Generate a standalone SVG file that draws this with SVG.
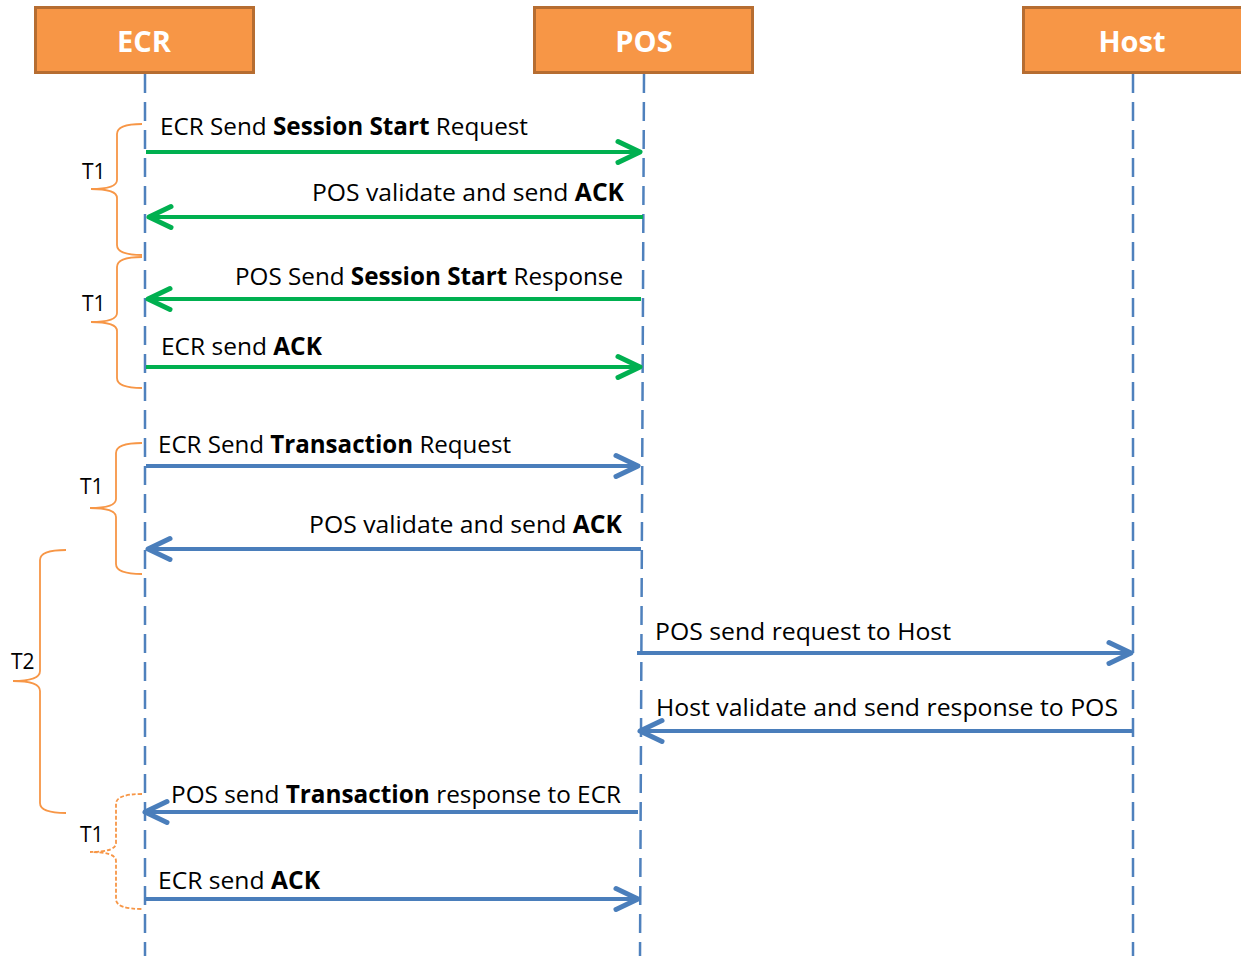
<svg xmlns="http://www.w3.org/2000/svg" width="1241" height="959" viewBox="0 0 1241 959">
  <style>
    .box { fill: #F79646; stroke: #B66D31; stroke-width: 3; }
    .head { font-family: "Open Sans", "Liberation Sans", sans-serif; font-weight: bold; font-size: 29px; fill: #FFFFFF; text-anchor: middle; }
    .life { stroke: #4F81BD; stroke-width: 2.5; stroke-dasharray: 19 9; fill: none; }
    .lbl { font-family: "Open Sans", "Liberation Sans", sans-serif; font-size: 24.5px; fill: #000000; }
    .lbl tspan.b { font-weight: bold; }
    .tl { font-family: "Open Sans", "Liberation Sans", sans-serif; font-size: 21px; fill: #000000; }
    .g { stroke: #00B050; stroke-width: 4; fill: none; }
    .bl { stroke: #4A7EBB; stroke-width: 4; fill: none; }
    .brace { stroke: #F79646; stroke-width: 1.8; fill: none; }
    .brace.dash { stroke-dasharray: 4 2; }
  </style>
  <defs>
    <marker id="arrG" markerUnits="userSpaceOnUse" markerWidth="40" markerHeight="40" refX="24" refY="12" orient="auto" overflow="visible">
      <path d="M2,1.5 L24,12 L2,22.5" fill="none" stroke="#00B050" stroke-width="5" stroke-linecap="round" stroke-linejoin="round"/>
    </marker>
    <marker id="arrB" markerUnits="userSpaceOnUse" markerWidth="40" markerHeight="40" refX="24" refY="12" orient="auto" overflow="visible">
      <path d="M2,1.5 L24,12 L2,22.5" fill="none" stroke="#4A7EBB" stroke-width="5" stroke-linecap="round" stroke-linejoin="round"/>
    </marker>
  </defs>

  <rect width="1241" height="959" fill="#FFFFFF"/>

  <!-- participants -->
  <g id="ecr">
    <rect class="box" x="35.5" y="7.5" width="218" height="65"/>
    <text class="head" x="144" y="52">ECR</text>
  </g>
  <g id="pos">
    <rect class="box" x="534.5" y="7.5" width="218" height="65"/>
    <text class="head" x="644" y="52">POS</text>
  </g>
  <g id="host">
    <rect class="box" x="1023.5" y="7.5" width="230" height="65"/>
    <text class="head" x="1132" y="52">Host</text>
  </g>

  <!-- lifelines -->
  <g id="lifelines">
    <line class="life" x1="145" y1="74" x2="145" y2="956"/>
    <line class="life" x1="644" y1="74" x2="640" y2="956"/>
    <line class="life" x1="1133" y1="74" x2="1133" y2="956"/>
  </g>

  <!-- messages -->
  <g id="connectors">
    <line class="g" x1="146" y1="152" x2="640" y2="152" marker-end="url(#arrG)"/>
    <line class="g" x1="643" y1="217" x2="149" y2="217" marker-end="url(#arrG)"/>
    <line class="g" x1="641" y1="299" x2="148" y2="299" marker-end="url(#arrG)"/>
    <line class="g" x1="146" y1="367" x2="640" y2="367" marker-end="url(#arrG)"/>
    <line class="bl" x1="146" y1="466" x2="638" y2="466" marker-end="url(#arrB)"/>
    <line class="bl" x1="641" y1="549" x2="148" y2="549" marker-end="url(#arrB)"/>
    <line class="bl" x1="637" y1="653" x2="1131" y2="653" marker-end="url(#arrB)"/>
    <line class="bl" x1="1133" y1="731" x2="640" y2="731" marker-end="url(#arrB)"/>
    <line class="bl" x1="638" y1="812" x2="145" y2="812" marker-end="url(#arrB)"/>
    <line class="bl" x1="144" y1="899" x2="638" y2="899" marker-end="url(#arrB)"/>
  </g>

  <!-- message labels -->
  <g id="labels">
    <text class="lbl" x="160" y="135" textLength="368" lengthAdjust="spacingAndGlyphs">ECR Send <tspan class="b">Session Start</tspan> Request</text>
    <text class="lbl" x="312" y="201" textLength="312" lengthAdjust="spacingAndGlyphs">POS validate and send <tspan class="b">ACK</tspan></text>
    <text class="lbl" x="235" y="285" textLength="388" lengthAdjust="spacingAndGlyphs">POS Send <tspan class="b">Session Start</tspan> Response</text>
    <text class="lbl" x="161" y="355" textLength="161" lengthAdjust="spacingAndGlyphs">ECR send <tspan class="b">ACK</tspan></text>
    <text class="lbl" x="158" y="453" textLength="353" lengthAdjust="spacingAndGlyphs">ECR Send <tspan class="b">Transaction</tspan> Request</text>
    <text class="lbl" x="309" y="533" textLength="313" lengthAdjust="spacingAndGlyphs">POS validate and send <tspan class="b">ACK</tspan></text>
    <text class="lbl" x="655" y="640" textLength="296" lengthAdjust="spacingAndGlyphs">POS send request to Host</text>
    <text class="lbl" x="656" y="716" textLength="462" lengthAdjust="spacingAndGlyphs">Host validate and send response to POS</text>
    <text class="lbl" x="171" y="803" textLength="450" lengthAdjust="spacingAndGlyphs">POS send <tspan class="b">Transaction</tspan> response to ECR</text>
    <text class="lbl" x="158" y="889" textLength="162" lengthAdjust="spacingAndGlyphs">ECR send <tspan class="b">ACK</tspan></text>
  </g>

  <!-- timing braces -->
  <g id="timer-t1-a">
    <path class="brace" d="M142,124 Q117,124 117,134 L117,180 Q117,189 91,189 Q117,189 117,198 L117,245 Q117,255 142,255"/>
    <text class="tl" x="82" y="179">T1</text>
  </g>
  <g id="timer-t1-b">
    <path class="brace" d="M142,257 Q117,257 117,267 L117,313 Q117,322 91,322 Q117,322 117,331 L117,378 Q117,388 142,388"/>
    <text class="tl" x="82" y="311">T1</text>
  </g>
  <g id="timer-t1-c">
    <path class="brace" d="M142,443 Q116,443 116,453 L116,499 Q116,508 90,508 Q116,508 116,517 L116,564 Q116,574 142,574"/>
    <text class="tl" x="80" y="494">T1</text>
  </g>
  <g id="timer-t2">
    <path class="brace" d="M66,550 Q40,550 40,560 L40,671 Q40,681 13,681 Q40,681 40,691 L40,803 Q40,813 66,813"/>
    <text class="tl" x="11" y="669">T2</text>
  </g>
  <g id="timer-t1-d">
    <path class="brace dash" d="M142,794 Q116,794 116,804 L116,843 Q116,852 90,852 Q116,852 116,861 L116,899 Q116,909 142,909"/>
    <text class="tl" x="80" y="842">T1</text>
  </g>
</svg>
